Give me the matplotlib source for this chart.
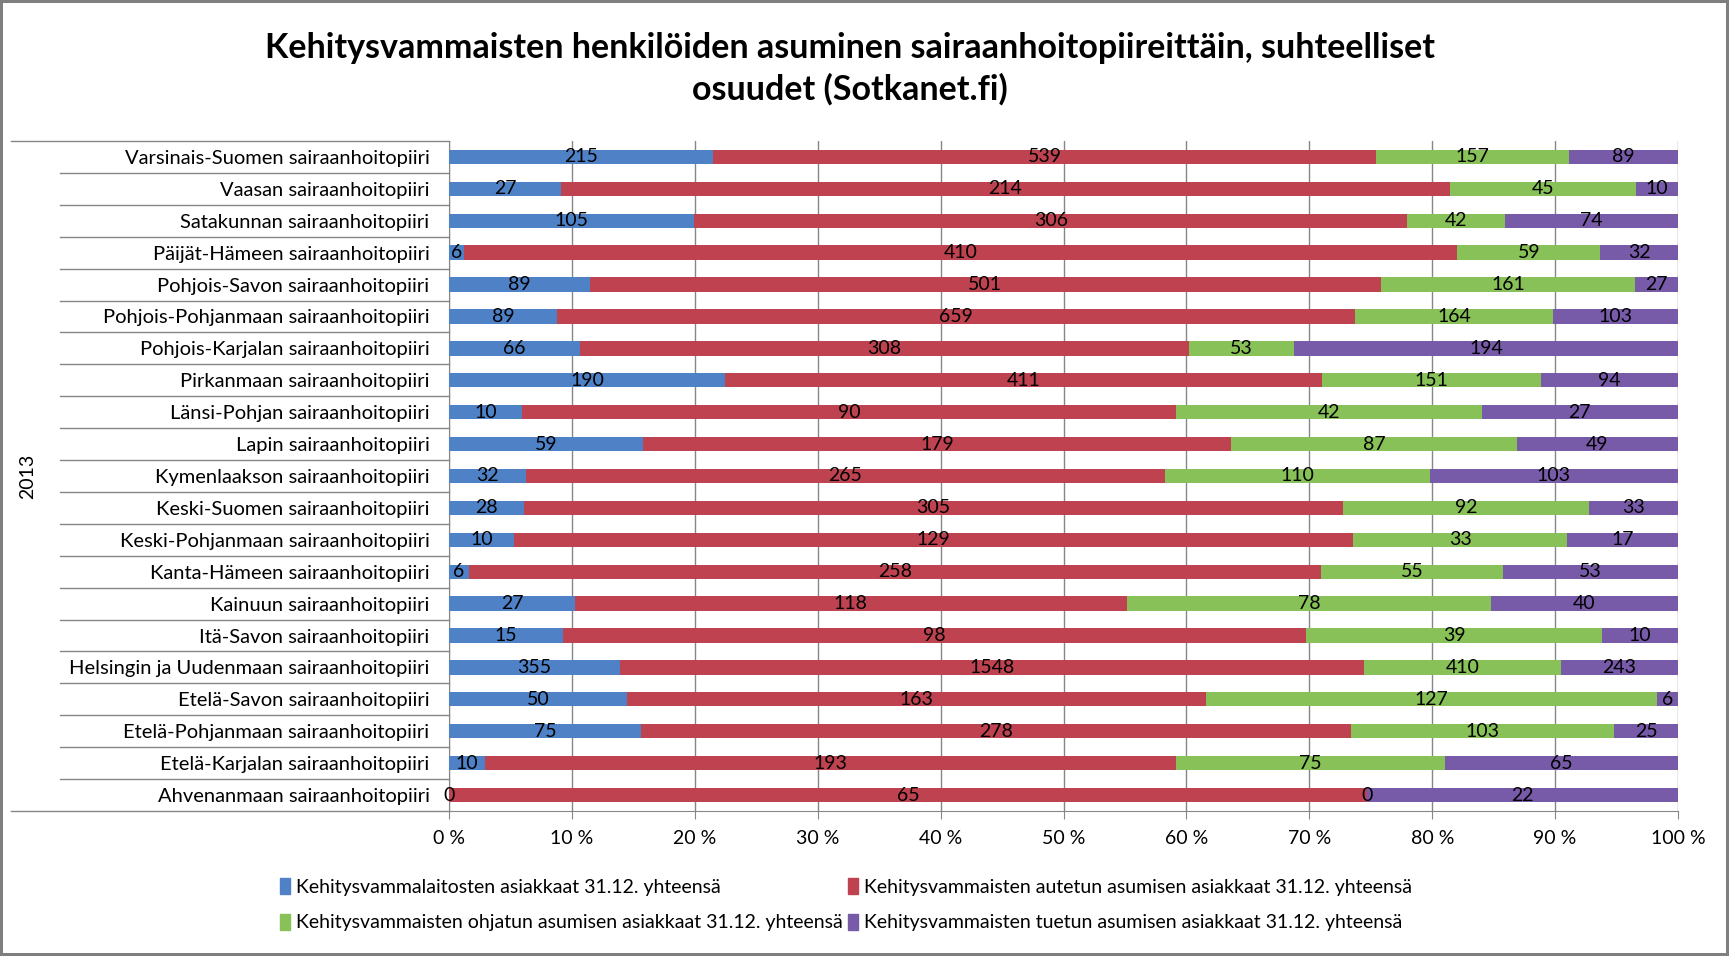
import numpy as np
import matplotlib
matplotlib.use("Agg")
import matplotlib.pyplot as plt
from matplotlib.patches import Patch

plt.rcParams['font.family'] = ['Lato', 'DejaVu Sans']

# categories from bottom to top (Excel order)
districts = [
    "Ahvenanmaan sairaanhoitopiiri",
    "Etelä-Karjalan sairaanhoitopiiri",
    "Etelä-Pohjanmaan sairaanhoitopiiri",
    "Etelä-Savon sairaanhoitopiiri",
    "Helsingin ja Uudenmaan sairaanhoitopiiri",
    "Itä-Savon sairaanhoitopiiri",
    "Kainuun sairaanhoitopiiri",
    "Kanta-Hämeen sairaanhoitopiiri",
    "Keski-Pohjanmaan sairaanhoitopiiri",
    "Keski-Suomen sairaanhoitopiiri",
    "Kymenlaakson sairaanhoitopiiri",
    "Lapin sairaanhoitopiiri",
    "Länsi-Pohjan sairaanhoitopiiri",
    "Pirkanmaan sairaanhoitopiiri",
    "Pohjois-Karjalan sairaanhoitopiiri",
    "Pohjois-Pohjanmaan sairaanhoitopiiri",
    "Pohjois-Savon sairaanhoitopiiri",
    "Päijät-Hämeen sairaanhoitopiiri",
    "Satakunnan sairaanhoitopiiri",
    "Vaasan sairaanhoitopiiri",
    "Varsinais-Suomen sairaanhoitopiiri",
]

laitos = [0, 10, 75, 50, 355, 15, 27, 6, 10, 28, 32, 59, 10, 190, 66, 89, 89, 6, 105, 27, 215]
autettu = [65, 193, 278, 163, 1548, 98, 118, 258, 129, 305, 265, 179, 90, 411, 308, 659, 501, 410, 306, 214, 539]
ohjattu = [0, 75, 103, 127, 410, 39, 78, 55, 33, 92, 110, 87, 42, 151, 53, 164, 161, 59, 42, 45, 157]
tuettu = [22, 65, 25, 6, 243, 10, 40, 53, 17, 33, 103, 49, 27, 94, 194, 103, 27, 32, 74, 10, 89]

series_names = [
    "Kehitysvammalaitosten asiakkaat 31.12. yhteensä",
    "Kehitysvammaisten autetun asumisen asiakkaat 31.12. yhteensä",
    "Kehitysvammaisten ohjatun asumisen asiakkaat 31.12. yhteensä",
    "Kehitysvammaisten tuetun asumisen asiakkaat 31.12. yhteensä",
]
colors = ["#4F81C7", "#BE4250", "#88C157", "#775BA8"]
xtick_labels = ["%d %%" % v for v in range(0, 101, 10)]

data = np.array([laitos, autettu, ohjattu, tuettu], dtype=float)
share = data / data.sum(axis=0)

fig = plt.figure(figsize=(17.29, 9.56), dpi=100)
fig.patch.set_edgecolor("#7f7f7f")
fig.patch.set_linewidth(3)
ax = fig.add_axes([0.2597, 0.1517, 0.7108, 0.7008])

y = np.arange(len(districts))
left = np.zeros(len(districts))
for i in range(4):
    bars = ax.barh(y, share[i], left=left, height=0.45, color=colors[i], zorder=3)
    ax.bar_label(bars, labels=[str(int(v)) for v in data[i]], label_type='center',
                 fontsize=14, color='black', zorder=4)
    left += share[i]

ax.set_xlim(0, 1)
ax.set_ylim(-0.5, len(districts) - 0.5)
ax.set_xticks(np.linspace(0, 1, 11))
ax.set_xticklabels(xtick_labels, fontsize=14)
ax.set_yticks(y)
ax.set_yticklabels(districts, fontsize=14.5)
ax.tick_params(axis='y', length=0, pad=14)
ax.tick_params(axis='x', length=6, color="#868686", pad=8)
ax.grid(axis='x', color="#868686", linewidth=1, zorder=0)
for s in ['top', 'right']:
    ax.spines[s].set_visible(False)
ax.spines['left'].set_color("#868686")
ax.spines['bottom'].set_color("#868686")

# separators in category label area
ytr = ax.get_yaxis_transform()
for k in range(1, len(districts)):
    ax.plot([-0.3165, 0], [k - 0.5, k - 0.5], transform=ytr, color="#868686",
            linewidth=1, clip_on=False)
for yy in [-0.5, len(districts) - 0.5]:
    ax.plot([-0.3564, 0], [yy, yy], transform=ytr, color="#868686",
            linewidth=1, clip_on=False)
ax.text(-0.343, (len(districts) - 1) / 2, "2013", transform=ytr, rotation=90,
        ha='center', va='center', fontsize=14)

fig.text(0.4916, 0.928, "Kehitysvammaisten henkilöiden asuminen sairaanhoitopiireittäin, suhteelliset\nosuudet (Sotkanet.fi)",
         ha='center', va='center', fontsize=24.5, fontweight='bold', linespacing=1.35)

handles = [Patch(color=c) for c in colors]
order = [0, 2, 1, 3]
fig.legend([handles[i] for i in order], [series_names[i] for i in order], ncol=2,
           loc='center left', bbox_to_anchor=(0.152, 0.0535), frameon=False,
           fontsize=14, handlelength=0.5, handleheight=0.9, handletextpad=0.3,
           columnspacing=0.3, labelspacing=0.9)

fig.savefig("out.png", dpi=100)
